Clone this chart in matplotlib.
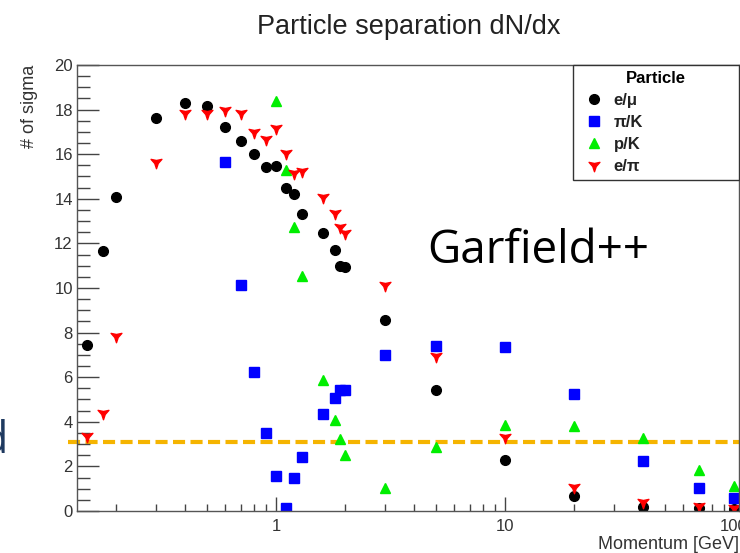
import numpy as np
from matplotlib import pyplot as plt
from matplotlib.path import Path
from matplotlib.ticker import MultipleLocator, LogLocator, FixedLocator, NullFormatter

# импульс, GeV
p_emu = [0.15, 0.175, 0.2, 0.3, 0.4, 0.5, 0.6, 0.7, 0.8, 0.9, 1.0, 1.1, 1.2, 1.3,
         1.6, 1.8, 1.9, 2.0, 3.0, 5.0, 10, 20, 40, 70, 100]
sig_emu = [7.45, 11.65, 14.1, 17.6, 18.3, 18.15, 17.2, 16.6, 16.0, 15.43, 15.47,
           14.48, 14.2, 13.3, 12.45, 11.7, 10.98, 10.95, 8.56, 5.43, 2.29, 0.67,
           0.18, 0.15, 0.1]

p_pik = [0.6, 0.7, 0.8, 0.9, 1.0, 1.1, 1.2, 1.3, 1.6, 1.8, 1.9, 2.0, 3.0, 5.0,
         10, 20, 40, 70, 100]
sig_pik = [15.65, 10.13, 6.23, 3.5, 1.58, 0.13, 1.48, 2.42, 4.35, 5.07, 5.42,
           5.42, 6.98, 7.4, 7.36, 5.25, 2.25, 1.04, 0.6]

p_pk = [1.0, 1.1, 1.2, 1.3, 1.6, 1.8, 1.9, 2.0, 3.0, 5.0, 10, 20, 40, 70, 100]
sig_pk = [18.4, 15.3, 12.75, 10.55, 5.87, 4.08, 3.23, 2.51, 1.04, 2.87, 3.86,
          3.81, 3.27, 1.84, 1.12]

p_epi = [0.15, 0.175, 0.2, 0.3, 0.4, 0.5, 0.6, 0.7, 0.8, 0.9, 1.0, 1.1, 1.2, 1.3,
         1.6, 1.8, 1.9, 2.0, 3.0, 5.0, 10, 20, 40, 70, 100]
sig_epi = [3.36, 4.39, 7.85, 15.65, 17.85, 17.85, 17.98, 17.85, 17.0, 16.68,
           17.17, 16.05, 15.17, 15.25, 14.08, 13.36, 12.74, 12.47, 10.13, 6.96,
           3.32, 1.08, 0.4, 0.22, 0.12]

labels = ["e/μ", "π/K", "p/K", "e/π"]
threshold = 3.09  # порог в сигмах (пунктир)

FONT = "Liberation Sans"


def star_down():
    """
    Маркер ROOT: трёхлучевая звёздочка остриём вниз
    """
    verts = []
    for i in range(6):
        ang = np.deg2rad(270 + 60 * i)
        r = 1.0 if i % 2 == 0 else 0.32
        verts.append((r * np.cos(ang), r * np.sin(ang)))
    verts.append(verts[0])
    codes = [Path.MOVETO] + [Path.LINETO] * 5 + [Path.CLOSEPOLY]
    return Path(verts, codes)


def main() -> None:
    plt.rcParams["font.family"] = [FONT, "DejaVu Sans"]

    fig = plt.figure(figsize=(7.4, 5.53), dpi=100)
    ax = fig.add_axes([0.104, 0.076, 0.8946, 0.8065])

    ax.plot(p_emu, sig_emu, "o", color="black", ms=7, label=labels[0])
    ax.plot(p_pik, sig_pik, "s", color="#0000ff", ms=7, label=labels[1])
    ax.plot(p_pk, sig_pk, "^", color="#00ee00", ms=7, label=labels[2])
    ax.plot(p_epi, sig_epi, ls="none", marker=star_down(), color="#ff0000",
            ms=9, label=labels[3])

    # пунктир порога выходит за левую границу рамки
    ax.plot([-0.014, 1.01], [threshold, threshold], transform=ax.get_yaxis_transform(),
            color="#f5b400", lw=3, dashes=(2.9, 1.3), clip_on=False, zorder=1)

    ax.set_xscale("log")
    ax.set_xlim(0.135, 105)
    ax.set_ylim(0, 20)

    ax.xaxis.set_major_locator(FixedLocator([1, 10, 100]))
    ax.xaxis.set_minor_locator(LogLocator(base=10, subs=np.arange(2, 10)))
    ax.xaxis.set_minor_formatter(NullFormatter())
    ax.set_xticklabels(["1", "10", "100"])
    ax.yaxis.set_major_locator(MultipleLocator(2))
    ax.yaxis.set_minor_locator(MultipleLocator(0.5))

    ax.tick_params(axis="both", which="both", direction="in", colors="#444444",
                   labelcolor="#333333", labelsize=12, top=False, right=False)
    ax.tick_params(axis="y", which="major", length=16, width=1, pad=3)
    ax.tick_params(axis="y", which="minor", length=9, width=1)
    ax.tick_params(axis="x", which="major", length=10, width=1, pad=6)
    ax.tick_params(axis="x", which="minor", length=5, width=1)

    for s in ax.spines.values():
        s.set_color("#555555")
        s.set_linewidth(1.0)

    ax.set_xlabel("Momentum [GeV]", fontsize=13, color="#333333", loc="right",
                  labelpad=1)
    ax.set_ylabel("# of sigma", fontsize=13, color="#333333", loc="top", labelpad=12)
    fig.text(0.553, 0.952, "Particle separation dN/dx", fontsize=19.5, color="#222222",
             ha="center", va="center")

    # легенда в стиле ROOT: широкая рамка в правом верхнем углу
    leg = ax.legend(loc="upper right", bbox_to_anchor=(0.749, 0.75, 0.251, 0.25),
                    mode="expand", borderaxespad=0,
                    fancybox=False, framealpha=1, edgecolor="#333333",
                    title="Particle", prop={"weight": "bold", "size": 12},
                    title_fontproperties={"weight": "bold", "size": 12},
                    handletextpad=0.3, labelspacing=0.42, borderpad=0.35,
                    handlelength=1.8)
    leg.get_frame().set_linewidth(1.0)
    for t in leg.get_texts():
        t.set_color("#222222")

    fig.text(0.577, 0.524, "Garfield++", fontsize=33, family=["Open Sans", "DejaVu Sans"],
             color="black", ha="left", va="baseline")
    fig.text(0.011, 0.181, "d", fontsize=31, family=["Open Sans", "DejaVu Sans"],
             color="#1f3a60", ha="right", va="baseline")

    fig.savefig("out.png", dpi=100)


if __name__ == '__main__':
    main()
